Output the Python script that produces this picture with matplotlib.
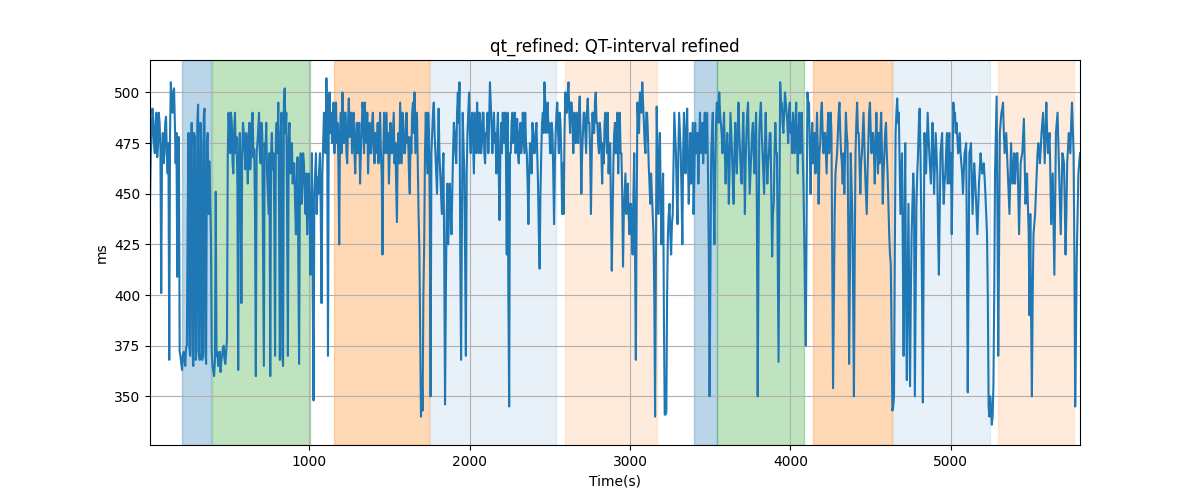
import matplotlib.pyplot as plt
import numpy as np

# QT values, one sample every 10 s (one row = 100 s)
T0 = 6
qt_main = [
    446, 478, 488, 470, 490, 475, 485, 401, 480, 470,
    488, 460, 368, 505, 490, 502, 465, 409, 478, 370,
    363, 372, 365, 375, 480, 370, 485, 365, 478, 372,
    494, 368, 475, 370, 492, 366, 480, 466, 428, 365,
    360, 451, 372, 368, 362, 370, 375, 366, 378, 490,
    470, 485, 460, 490, 478, 363, 480, 396, 485, 470,
    480, 455, 485, 470, 490, 472, 360, 475, 490, 465,
    480, 365, 470, 460, 440, 360, 480, 470, 370, 485,
    495, 368, 490, 365, 502, 490, 370, 485, 470, 455,
    465, 430, 468, 366, 470, 455, 465, 440, 430, 460,
    410, 470, 348, 460, 440, 450, 470, 396, 475, 485,
    507, 370, 500, 490, 480, 470, 495, 485, 425, 490,
    500, 475, 490, 465, 497, 480, 470, 490, 460, 485,
    470, 455, 480, 490, 495, 475, 460, 485, 470, 490,
    465, 480, 485, 475, 470, 420, 490, 480, 470, 455,
    485, 470, 490, 475, 436, 480, 495, 465, 485, 470,
    490, 478, 450, 470, 495, 500, 480, 465, 422, 340,
    343, 425, 490, 460, 480, 350, 480, 495, 470, 450,
    492, 460, 440, 470, 346, 440, 425, 455, 430, 470,
    480, 465, 500, 505, 368, 490, 460, 370, 480, 500,
    470, 490, 460, 480, 495, 470, 485, 475, 490, 465,
    480, 470, 505, 485, 480, 475, 460, 490, 437, 485,
    490, 475, 470, 490, 345, 470, 490, 480, 470, 487,
    465, 485, 475, 480, 490, 470, 435, 475, 460, 480,
    470, 485, 455, 413, 470, 490, 505, 480, 495, 485,
    470, 480, 435, 480, 495, 470, 485, 440, 440, 500,
    490, 505, 480, 495, 470, 485, 490, 475, 498, 450,
    480, 490, 470, 497, 485, 440, 490, 480, 500, 485,
    470, 480, 455, 465, 490, 470, 460, 475, 412, 465,
    485, 475, 460, 490, 470, 414, 450, 440, 455, 430,
    445, 420, 470, 368, 495, 480, 500, 505, 485, 470,
    490, 465, 445, 450, 430, 340, 493, 440, 480, 425,
    460, 341, 342, 430, 445, 420, 440, 490, 470, 435,
    490, 470, 425, 490, 460, 492, 445, 480, 470, 440,
    485, 470, 455, 490, 475, 465, 490, 480, 460, 350,
    470, 490, 425, 485, 495, 500, 485, 470, 490, 455,
    480, 445, 490, 470, 445, 485, 460, 495, 470, 455,
    490, 440, 480, 495, 450, 470, 485, 460, 490, 350,
    480, 495, 470, 450, 490, 455, 470, 480, 419, 445,
    485, 470, 367, 505, 495, 480, 500, 490, 475, 495,
    485, 490, 470, 495, 460, 490, 475, 470, 430, 375,
    500, 495, 450, 485, 470, 460, 490, 445, 475, 495,
    470, 480, 460, 490, 475, 480, 354, 440, 465, 480,
    495, 470, 455, 450, 490, 475, 366, 470, 440, 350,
    470, 495, 480, 450, 470, 490, 460, 440, 475, 495,
    470, 480, 455, 490, 460, 465, 490, 445, 470, 485,
    460, 430, 415, 343, 350, 480, 497, 490, 440, 470,
    370, 475, 358, 445, 355, 430, 460, 350, 445, 470,
    492, 440, 347, 480, 460, 490, 470, 455, 485, 450,
    480, 460, 410, 470, 480, 445, 460, 480, 470, 455,
    430, 495, 490, 485, 470, 480, 465, 450, 470, 475,
    352, 470, 475, 440, 465, 450, 430, 455, 470, 460,
    465, 450, 430, 345, 350, 336, 355, 460, 498, 370,
    480, 490, 495, 470, 480, 460, 440, 475, 455, 470,
    465, 470, 430, 465, 470, 487, 445, 460, 430, 440,
    350, 430, 440, 460, 475, 465, 480, 490, 465, 495,
    470, 480, 435, 460, 410, 480, 490, 460, 430, 470,
    465, 420, 465, 480, 470, 495, 470, 345, 420, 460,
    470,
]
# samples that fall 5 s after each of the values above
qt_between = [
    470, 492, 475, 484, 468, 490, 472, 470, 465, 485,
    470, 475, 480, 495, 500, 485, 480, 470, 372, 366,
    370, 368, 374, 440, 375, 470, 372, 480, 368, 485,
    372, 485, 368, 488, 372, 475, 440, 450, 372, 362,
    368, 370, 365, 372, 368, 374, 368, 372, 470, 478,
    490, 465, 482, 470, 455, 470, 455, 470, 480, 462,
    470, 478, 462, 485, 468, 440, 470, 482, 470, 485,
    420, 475, 485, 450, 470, 470, 462, 440, 478, 470,
    440, 480, 370, 495, 480, 440, 478, 460, 475, 465,
    445, 455, 420, 460, 445, 470, 450, 460, 450, 440,
    445, 400, 450, 470, 458, 462, 440, 460, 490, 470,
    485, 490, 480, 475, 495, 485, 475, 465, 480, 470,
    485, 490, 470, 485, 478, 490, 485, 470, 480, 470,
    485, 470, 495, 470, 480, 490, 475, 470, 485, 475,
    480, 470, 465, 490, 460, 470, 470, 490, 480, 470,
    470, 480, 465, 455, 475, 465, 480, 490, 470, 480,
    475, 460, 478, 490, 480, 470, 490, 440, 380, 360,
    400, 470, 475, 490, 440, 470, 490, 480, 460, 470,
    470, 450, 460, 420, 400, 455, 440, 445, 450, 485,
    470, 490, 485, 420, 430, 475, 420, 460, 490, 480,
    485, 475, 490, 470, 480, 490, 470, 490, 470, 480,
    490, 485, 495, 470, 490, 480, 480, 460, 470, 470,
    480, 490, 420, 400, 470, 485, 475, 490, 480, 470,
    480, 470, 490, 470, 475, 455, 460, 470, 485, 470,
    480, 470, 430, 450, 485, 480, 495, 490, 480, 470,
    485, 460, 465, 490, 480, 490, 470, 465, 480, 490,
    500, 490, 495, 485, 490, 475, 485, 490, 480, 470,
    490, 480, 490, 485, 470, 470, 480, 495, 485, 475,
    485, 470, 475, 485, 480, 490, 470, 440, 440, 480,
    470, 490, 480, 470, 450, 440, 460, 450, 440, 445,
    430, 450, 420, 440, 485, 500, 490, 495, 475, 490,
    480, 455, 460, 440, 400, 420, 470, 465, 450, 445,
    390, 341, 400, 440, 430, 435, 465, 480, 450, 470,
    480, 450, 470, 475, 480, 470, 465, 455, 485, 460,
    470, 480, 475, 470, 485, 480, 470, 490, 420, 410,
    480, 450, 460, 495, 485, 490, 480, 480, 470, 470,
    470, 465, 480, 455, 470, 470, 480, 480, 460, 475,
    470, 465, 490, 470, 460, 480, 470, 480, 440, 420,
    490, 480, 460, 475, 470, 465, 480, 450, 440, 470,
    470, 420, 440, 495, 485, 490, 495, 485, 490, 480,
    470, 480, 485, 475, 480, 470, 490, 455, 400, 440,
    495, 470, 475, 465, 480, 475, 470, 470, 490, 480,
    480, 470, 480, 470, 490, 420, 400, 460, 470, 490,
    480, 465, 470, 470, 480, 430, 410, 455, 400, 420,
    485, 480, 465, 465, 480, 475, 450, 460, 490, 480,
    480, 470, 475, 475, 480, 480, 470, 460, 480, 470,
    445, 420, 380, 345, 420, 490, 485, 465, 455, 420,
    430, 400, 400, 400, 400, 445, 450, 400, 460, 485,
    470, 400, 420, 470, 475, 480, 462, 470, 470, 465,
    470, 430, 440, 475, 460, 455, 470, 455, 480, 470,
    460, 490, 480, 478, 475, 470, 460, 460, 472, 420,
    410, 472, 458, 452, 458, 440, 442, 462, 465, 462,
    458, 440, 400, 340, 345, 340, 400, 480, 440, 420,
    485, 492, 480, 475, 470, 450, 458, 465, 462, 455,
    470, 450, 448, 468, 478, 466, 452, 445, 390, 390,
    400, 435, 450, 470, 470, 472, 485, 478, 480, 480,
    475, 460, 448, 435, 445, 485, 475, 445, 450, 468,
    445, 440, 472, 475, 485, 482, 420, 380, 440, 465,
]

qt_ms = np.empty(len(qt_main) + len(qt_between))
qt_ms[0::2] = qt_main
qt_ms[1::2] = qt_between
time_s = T0 + np.arange(len(qt_ms)) * 5

# shaded segments (start, end) in seconds and their colour/alpha
seg_start = [206, 391, 1154, 1752, 2594, 3399, 3544, 4141, 4642, 5297]
seg_end = [386, 1004, 1748, 2538, 3166, 3540, 4085, 4636, 5245, 5769]
seg_color = ['tab:blue', 'tab:green', 'tab:orange', 'tab:blue', 'tab:orange',
             'tab:blue', 'tab:green', 'tab:orange', 'tab:blue', 'tab:orange']
seg_alpha = [0.3, 0.3, 0.3, 0.1, 0.15, 0.3, 0.3, 0.3, 0.1, 0.15]

fig, ax = plt.subplots(figsize=(12, 5))
for s, e, c, a in zip(seg_start, seg_end, seg_color, seg_alpha):
    ax.axvspan(s, e, color=c, alpha=a)
ax.plot(time_s, qt_ms, color='tab:blue', lw=1.5)

ax.set_xlim(time_s[0], time_s[-1])
ax.set_ylim(326, 516)
ax.set_title('qt_refined: QT-interval refined')
ax.set_xlabel('Time(s)')
ax.set_ylabel('ms')
ax.grid(True)
plt.savefig('out.png', dpi=100)
